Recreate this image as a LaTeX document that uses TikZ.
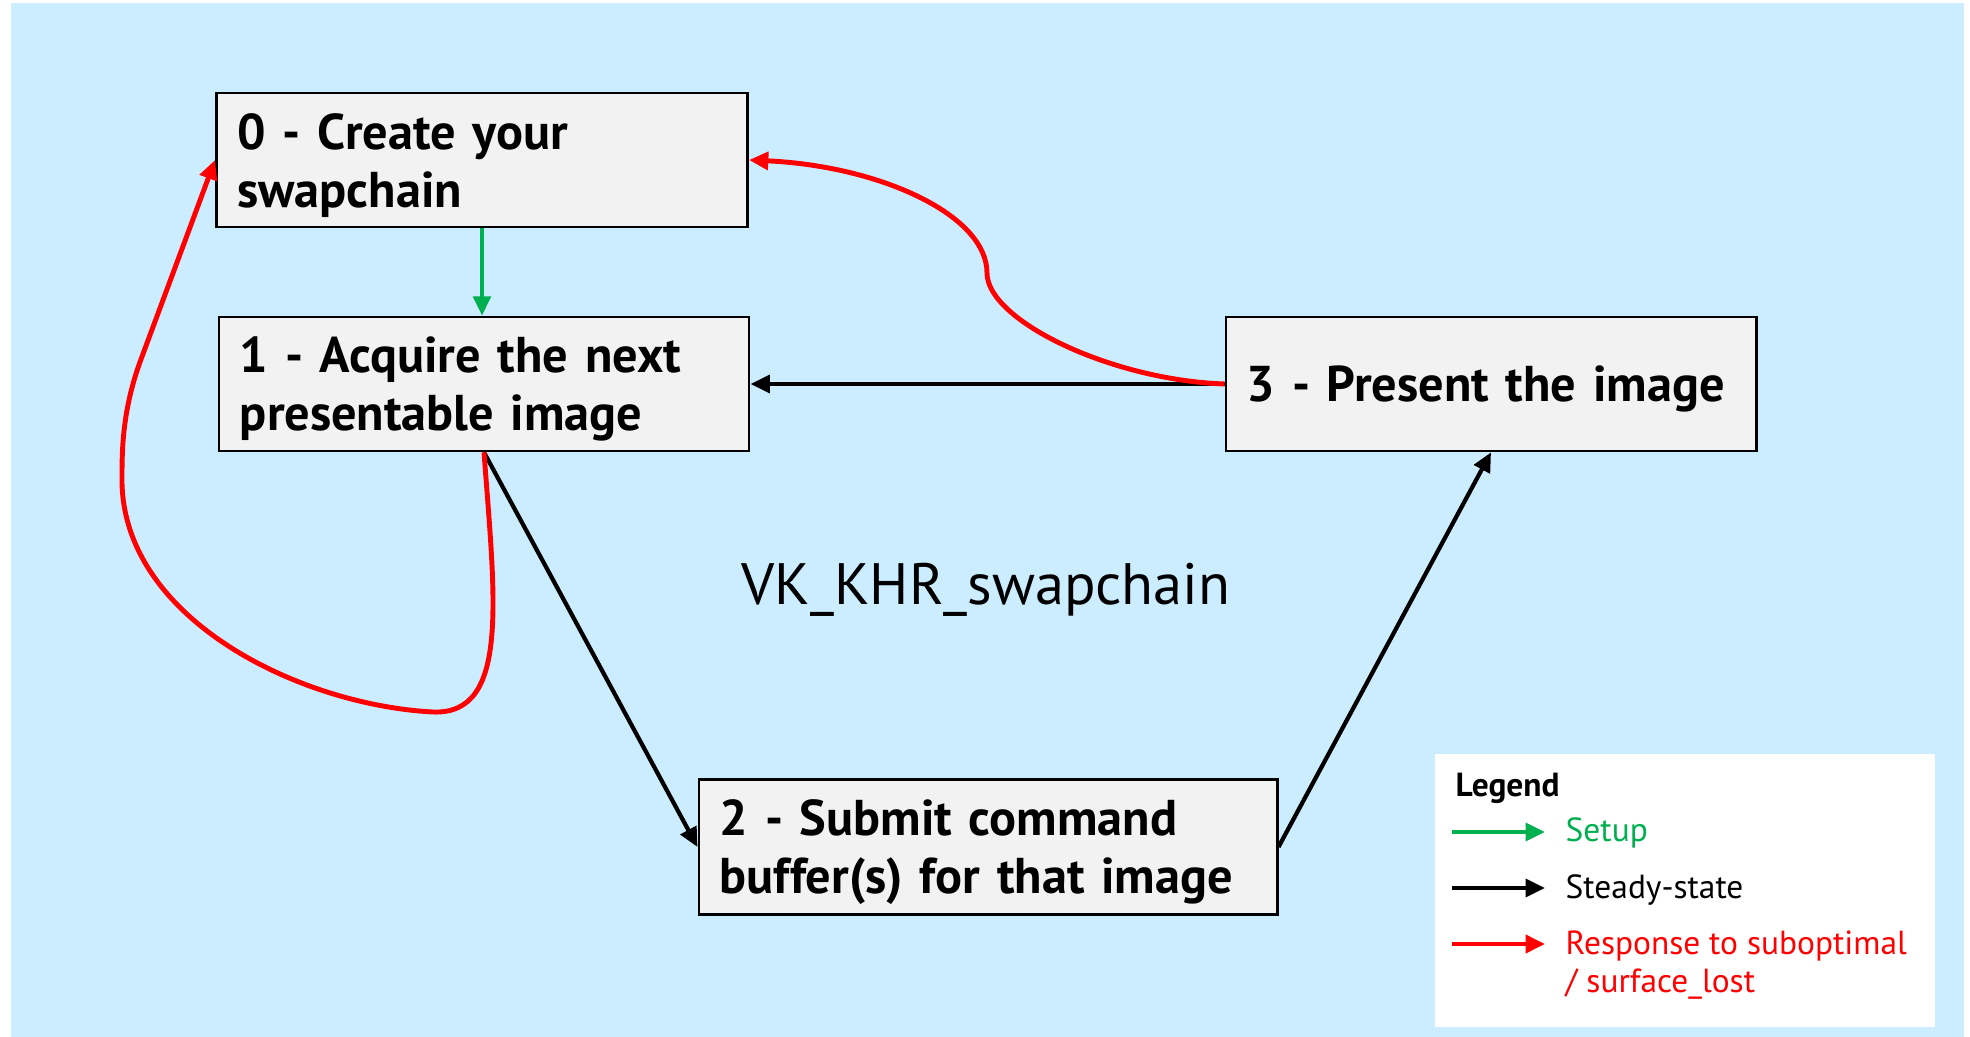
\documentclass[tikz,border=0pt]{standalone}
\usepackage{fontspec}
\setmainfont{PT Sans}
\usetikzlibrary{arrows.meta}

\definecolor{slideblue}{RGB}{204,236,255}
\definecolor{boxgray}{RGB}{242,242,242}
\definecolor{setupgreen}{RGB}{0,176,80}
\definecolor{failred}{RGB}{255,0,0}

\begin{document}
\begin{tikzpicture}[x=0.01cm, y=0.01cm,
    box/.style={draw, fill=boxgray, line width=0.75pt, rectangle, align=left,
      inner xsep=0.21cm, inner ysep=0pt, minimum height=1.34cm,
      execute at begin node={\rule{0pt}{13.2pt}},
      font=\bfseries\fontsize{14.3}{16.5}\selectfont},
    tip/.style={-{Triangle[length=5.5pt, width=5pt]}},
    setup/.style={tip, draw=setupgreen, line width=1.2pt},
    steady/.style={tip, draw=black, line width=1.2pt},
    failure/.style={tip, draw=failred, line width=1.4pt},
    lgdtext/.style={anchor=west, inner sep=0pt, align=left,
      font=\fontsize{9.5}{11}\selectfont}]
  \useasboundingbox (0,0) rectangle (1970,-1037);
  \fill[slideblue] (11,-3) rectangle (1964,-1037);

  \node[box, text width=4.89cm] (b0) at (482,-160) {0 - Create your\\swapchain};
  \node[box, text width=4.88cm] (b1) at (484,-384) {1 - Acquire the next\\presentable image};
  \node[box, text width=4.88cm] (b3) at (1491,-384) {3 - Present the image};
  \node[box, text width=5.36cm, minimum height=1.35cm] (b2) at (988,-847) {2 - Submit command\\buffer(s) for that image};

  \node[font=\fontsize{16.6}{19}\selectfont] (title) at (986,-590) {VK\_KHR\_swapchain};

  \draw[setup] (b0.south) -- (b0.south |- b1.north);
  \draw[steady] (b3.west) -- (b1.east);
  \draw[steady] (b1.south) -- (b2.west);
  \draw[steady] (b2.east) -- (b3.south);

  \draw[failure] (b3.west) .. controls (1110,-380) and (987,-320) .. (987,-273)
    .. controls (987,-215) and (880,-166) .. (b0.east);
  \draw[failure] (b1.south) .. controls (495,-600) and (510,-715) .. (433,-712)
    .. controls (300,-705) and (125,-620) .. (122,-483)
    .. controls (122,-453) and (121.5,-413.5) .. (140,-362) -- (b0.west);

  \node[fill=white, minimum width=5cm, minimum height=2.73cm, inner sep=0pt] (legend) at (1685,-890.5) {};
  \node[lgdtext, font=\bfseries\fontsize{9.5}{11}\selectfont] (lgd) at (1455,-788) {Legend};
  \coordinate (ls0) at (1452,-832);
  \coordinate (ls1) at (1545,-832);
  \coordinate (lb0) at (1452,-888);
  \coordinate (lb1) at (1545,-888);
  \coordinate (lr0) at (1452,-944);
  \coordinate (lr1) at (1545,-944);
  \draw[setup] (ls0) -- (ls1);
  \draw[steady] (lb0) -- (lb1);
  \draw[failure] (lr0) -- (lr1);
  \node[lgdtext, text=setupgreen] (lsetup) at (1565,-833) {Setup};
  \node[lgdtext] (lsteady) at (1565,-890) {Steady-state};
  \node[lgdtext, text=failred] (lresp) at (1565,-965) {Response to suboptimal\\/ surface\_lost};
\end{tikzpicture}
\end{document}
